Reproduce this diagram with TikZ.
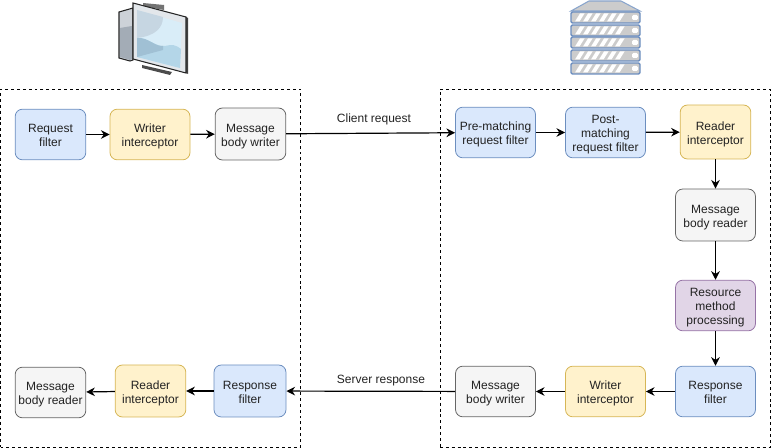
\documentclass[tikz,border=0pt]{standalone}
\usepackage{fontspec}
\setmainfont{Liberation Sans}
\usepackage{tikz}
\usetikzlibrary{arrows.meta}
\definecolor{bluefill}{HTML}{DAE8FC}
\definecolor{blueline}{HTML}{6C8EBF}
\definecolor{yellowfill}{HTML}{FFF2CC}
\definecolor{yellowline}{HTML}{D6B656}
\definecolor{greyfill}{HTML}{F5F5F5}
\definecolor{greyline}{HTML}{666666}
\definecolor{purplefill}{HTML}{E1D5E7}
\definecolor{purpleline}{HTML}{9673A6}
\definecolor{textgrey}{HTML}{222222}
\definecolor{screenlight}{HTML}{D9EDF8}
\definecolor{screenshade}{HTML}{C6D6E2}
\definecolor{screenwave}{HTML}{B4D6E8}
\definecolor{screendeep}{HTML}{A0C0D4}
\definecolor{towerlight}{HTML}{CDD2D8}
\definecolor{towerdark}{HTML}{A3ACB6}
\definecolor{bezel}{HTML}{E3E7EB}
\newcommand{\boxtext}[1]{\rule{0pt}{10pt}#1\rule[-2pt]{0pt}{0pt}}
\tikzstyle{box}=[draw, shape=rectangle, rounded corners=5.5pt, align=center, font=\fontsize{9}{10.5}\selectfont, text=textgrey, inner sep=0pt, line width=0.6pt]
\tikzstyle{bluebox}=[box, fill=bluefill, draw=blueline]
\tikzstyle{yellowbox}=[box, fill=yellowfill, draw=yellowline]
\tikzstyle{greybox}=[box, fill=greyfill, draw=greyline]
\tikzstyle{purplebox}=[box, fill=purplefill, draw=purpleline]
\tikzstyle{frame}=[draw, shape=rectangle, inner sep=0pt, line width=0.6pt, dash pattern=on 2.2pt off 2.2pt]
\tikzstyle{flow}=[-{Stealth[length=6.5pt,width=6.5pt]}, line width=0.9pt]
\tikzstyle{caption}=[font=\fontsize{9}{10.5}\selectfont, text=textgrey, inner sep=0pt]
\begin{document}
\begin{tikzpicture}[x=0.75pt, y=-0.75pt]
\useasboundingbox (0,0) rectangle (771,448);
% the two dashed frames
\node[frame, minimum width=225pt, minimum height=268.5pt] (client) at (150.5,268) {};
\node[frame, minimum width=247.5pt, minimum height=268.5pt] (server) at (605,268) {};
% the client side
\node[bluebox, minimum width=53pt, minimum height=38pt] (A0) at (50.5,134.5) {\boxtext{Request\\filter}};
\node[yellowbox, minimum width=60pt, minimum height=38pt] (A1) at (150,134.5) {\boxtext{Writer\\interceptor}};
\node[greybox, minimum width=53pt, minimum height=39pt] (A2) at (250.5,134) {\boxtext{Message\\body writer}};
\node[bluebox, minimum width=54pt, minimum height=39pt] (A3) at (250,391) {\boxtext{Response\\filter}};
\node[yellowbox, minimum width=53pt, minimum height=39pt] (A4) at (150.5,391) {\boxtext{Reader\\interceptor}};
\node[greybox, minimum width=53pt, minimum height=38pt] (A5) at (50.5,392.5) {\boxtext{Message\\body reader}};
% the server side
\node[bluebox, minimum width=60pt, minimum height=38pt] (B0) at (495.5,132.5) {\boxtext{Pre-matching\\request filter}};
\node[bluebox, minimum width=60pt, minimum height=38pt] (B1) at (605.5,132.5) {\boxtext{Post-\\matching\\request filter}};
\node[yellowbox, minimum width=53pt, minimum height=40.5pt] (B2) at (715.5,132) {\boxtext{Reader\\interceptor}};
\node[greybox, minimum width=60pt, minimum height=39pt] (B3) at (715.5,215) {\boxtext{Message\\body reader}};
\node[purplebox, minimum width=60pt, minimum height=38pt] (B4) at (715.5,305.5) {\boxtext{Resource\\method\\processing}};
\node[bluebox, minimum width=60pt, minimum height=38pt] (B5) at (715.5,391.5) {\boxtext{Response\\filter}};
\node[yellowbox, minimum width=60pt, minimum height=38pt] (B6) at (605.5,391.5) {\boxtext{Writer\\interceptor}};
\node[greybox, minimum width=60pt, minimum height=38pt] (B7) at (495.5,391.5) {\boxtext{Message\\body writer}};
% the edges
\draw[flow] (A0) -- (A1);
\draw[flow] (A1) -- (A2);
\draw[flow] (A2) -- (B0);
\draw[flow] (B0) -- (B1);
\draw[flow] (B1) -- (B2);
\draw[flow] (B2) -- (B3);
\draw[flow] (B3) -- (B4);
\draw[flow] (B4) -- (B5);
\draw[flow] (B5) -- (B6);
\draw[flow] (B6) -- (B7);
\draw[flow] (B7) -- (A3);
\draw[flow] (A3) -- (A4);
\draw[flow] (A4) -- (A5);
% the captions
\node[caption] (L0) at (374,119) {Client request};
\node[caption] (L1) at (381,381) {Server response};
% the computer
\begin{scope}
\fill[black!70] (142,65) -- (172,72) -- (170,75) -- (142,68) -- cycle;
\fill[black!55] (143,3) -- (164,5) -- (164,10) -- (143,6) -- cycle;
\draw[black!85, fill=towerlight, line width=0.8pt] (119,12) -- (133,8) -- (133,60) -- (130,61) -- (119,58) -- cycle;
\fill[towerdark] (120,28) -- (132,26) -- (132,59) -- (130,60) -- (120,57) -- cycle;
\fill[black!75] (186,17) -- (188,18) -- (188,74) -- (186,73) -- cycle;
\draw[black!85, fill=bezel, line width=0.8pt] (133,3) -- (186,17) -- (186,73) -- (133,59) -- cycle;
\fill[screenlight] (137,10) -- (182,23) -- (180,68) -- (137,57) -- cycle;
\fill[screenshade] (137,10) -- (163,17) .. controls (163,28) and (155,36) .. (137,38) -- cycle;
\fill[screenwave] (137,38) .. controls (148,37) and (155,47) .. (165,46) .. controls (172,44) and (176,45) .. (181,49) -- (180,68) -- (137,57) -- cycle;
\fill[screendeep] (137,38) .. controls (148,37) and (155,47) .. (163,46) -- (163,50) -- (137,57) -- cycle;
\end{scope}
% the server
\begin{scope}
\fill[black!20, draw=blueline!80, line width=0.8pt] (571,11) -- (589,1) -- (621,1) -- (640,11) -- cycle;
\foreach \y in {12,25,37,50,63} {
\draw[blueline, fill=black!20, rounded corners=1pt, line width=1pt] (571,\y) rectangle (640,\y+11);
\foreach \x in {0,1,...,5}
\fill[white] (575+\x*8,\y+9.5) -- (579.5+\x*8,\y+9.5) -- (584.5+\x*8,\y+1.5) -- (580+\x*8,\y+1.5) -- cycle;
\fill[white, rounded corners=1pt] (632,\y+3) rectangle (638,\y+8);
}
\end{scope}
\end{tikzpicture}
\end{document}
